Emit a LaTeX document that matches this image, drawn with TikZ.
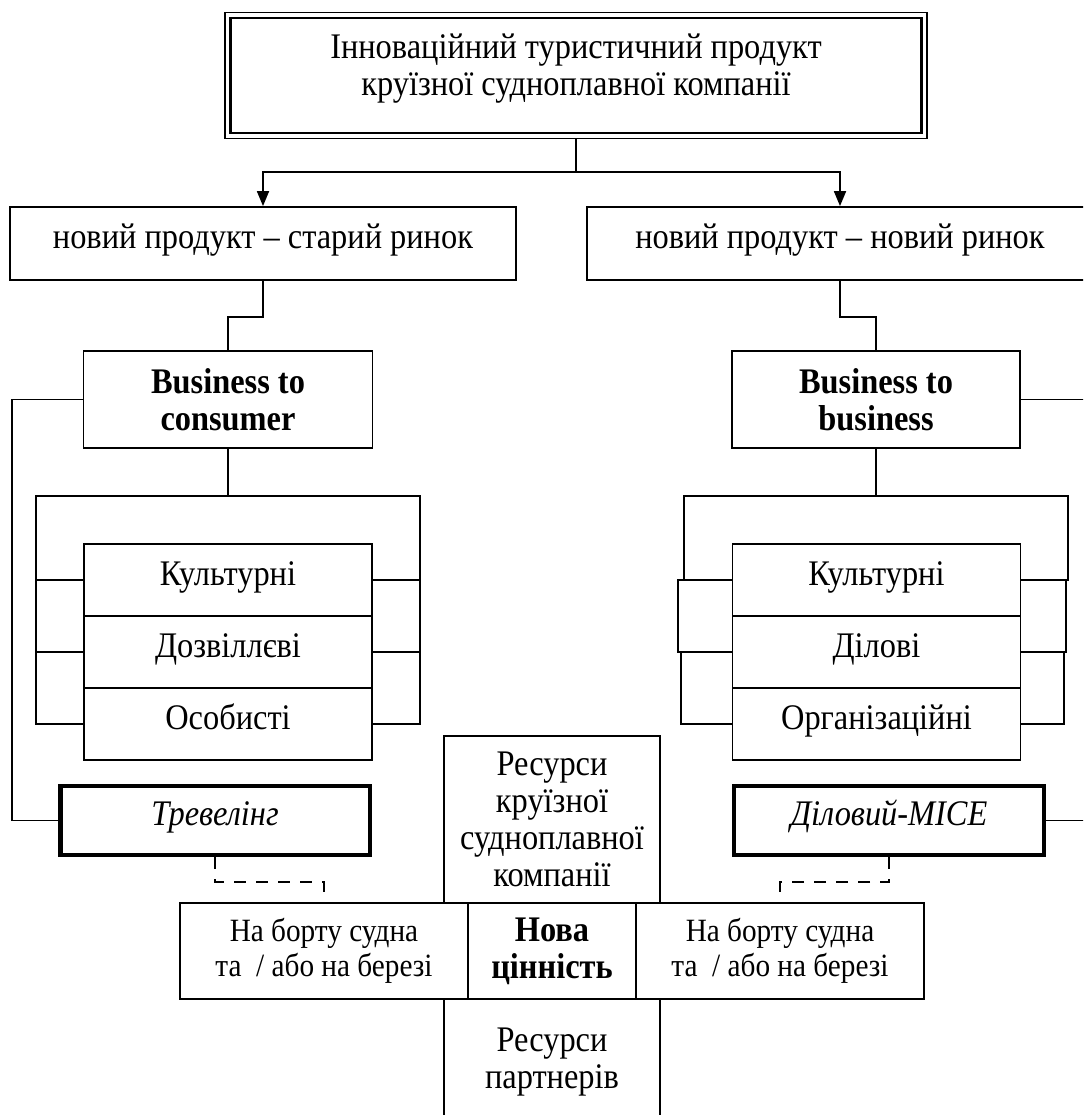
\documentclass[tikz,border=0pt]{standalone}
\usepackage{fontspec}
\setmainfont[FakeStretch=0.9]{Liberation Serif}
\usetikzlibrary{arrows.meta}
\newcommand{\figfont}{\fontsize{36}{37}\selectfont}
\newcommand{\sidefont}{\fontsize{32.5}{35}\selectfont}
\begin{document}
\begin{tikzpicture}[x=1pt,y=-1pt,
  every node/.style={font=\figfont, inner sep=0pt, align=center},
  box/.style={draw, line width=1.8pt, rectangle},
  cell/.style={box, text height=22pt, text depth=12pt},
  heavybox/.style={draw, line width=4.5pt, rectangle, text height=22pt, text depth=12pt},
  link/.style={line width=1.8pt},
  dlink/.style={line width=1.8pt, dash pattern=on 12pt off 10pt},
  arr/.style={link, -{Triangle[length=15pt,width=12pt]}}]
\clip (0,0) rectangle (1083,1115);
\fill[white] (0,0) rectangle (1083,1115);

% title block with a double frame
\node[draw, line width=1.4pt, minimum width=702pt, minimum height=126pt] (top) at (576,75.5) {};
\draw[line width=2.6pt] (230.5,18) rectangle (921.5,133);
\node (toptext) at (576,69) {Інноваційний туристичний продукт\\круїзної судноплавної компанії};

% market strategies
\node[cell, minimum width=506pt, minimum height=73pt] (nL) at (263,243.5) {новий продукт -- старий ринок};
\node[cell, minimum width=506pt, minimum height=73pt] (nR) at (840,243.5) {новий продукт -- новий ринок};

\coordinate (split) at (576,172);
\draw[link] (top.south) -- (split);
\draw[arr] (split) -| (nL.north);
\draw[arr] (split) -| (nR.north);

% segments
\node[box, minimum width=289pt, minimum height=97pt, font=\figfont\bfseries] (b2c) at (228,399.5) {Business to\\consumer};
\node[box, minimum width=288pt, minimum height=97pt, font=\figfont\bfseries] (b2b) at (876,399.5) {Business to\\business};

\draw[link] (nL.south) -- ++(0,36) -| (b2c.north);
\draw[link] (nR.south) -- ++(0,36) -| (b2b.north);

% B2C categories
\node[cell, minimum width=288pt, minimum height=72pt] (c1) at (228,580) {Культурні};
\node[cell, minimum width=288pt, minimum height=72pt] (c2) at (228,652) {Дозвіллєві};
\node[cell, minimum width=288pt, minimum height=72pt] (c3) at (228,724) {Особисті};

% B2B categories
\node[cell, minimum width=288pt, minimum height=72pt] (d1) at (876.5,580) {Культурні};
\node[cell, minimum width=288pt, minimum height=72pt] (d2) at (876.5,652) {Ділові};
\node[cell, minimum width=288pt, minimum height=72pt] (d3) at (876.5,724) {Організаційні};

% brackets around the B2C categories
\draw[link] (b2c.south) -- ++(0,48);
\draw[link] (c3.west) -- (36,724) -- (36,496) -- (420,496) -- (420,724) -- (c3.east);
\draw[link] (c1.west) -- (36,580);
\draw[link] (c2.west) -- (36,652);
\draw[link] (c1.east) -- (420,580);
\draw[link] (c2.east) -- (420,652);

% brackets around the B2B categories
\draw[link] (b2b.south) -- ++(0,48);
\draw[link] (684,580) -- (684,496) -- (1068,496) -- (1068,580) -- (d1.east);
\draw[link] (d1.west) -- (678,580) -- (678,652) -- (d2.west);
\draw[link] (d2.west) -- (681,652) -- (681,724) -- (d3.west);
\draw[link] (d1.east) -- (1066,580) -- (1066,652) -- (d2.east);
\draw[link] (d2.east) -- (1064,652) -- (1064,724) -- (d3.east);

% tour types
\node[heavybox, minimum width=309.5pt, minimum height=69pt, font=\figfont\itshape] (trav) at (215,820.5) {Тревелінг};
\node[heavybox, minimum width=310pt, minimum height=69pt, font=\figfont\itshape] (mice) at (889,820.5) {Діловий-MICE};

\draw[link] (b2c.west) -- (12,399.5) |- (trav.west);
\coordinate (edgeA) at (1090,399.5);
\coordinate (edgeB) at (1090,820.5);
\draw[link] (b2b.east) -- (edgeA);
\draw[link] (mice.east) -- (edgeB);

% value cross
\node[box, minimum width=216pt, minimum height=167pt] (res) at (552,819.5) {Ресурси\\круїзної\\судноплавної\\компанії};
\node[box, minimum width=288pt, minimum height=96pt, font=\sidefont] (bL) at (324,951) {На борту судна\\та~ / або на березі};
\node[box, minimum width=168pt, minimum height=96pt, font=\figfont\bfseries] (nova) at (552,951) {Нова\\цінність};
\node[box, minimum width=288pt, minimum height=96pt, font=\sidefont] (bR) at (780,951) {На борту судна\\та~ / або на березі};
\node[box, minimum width=216pt, minimum height=126pt] (partn) at (552,1062) {Ресурси\\партнерів};

\draw[dlink] (trav.south) -- ++(0,25) -| (bL.north);
\draw[dlink] (mice.south) -- ++(0,25) -| (bR.north);
\end{tikzpicture}
\end{document}
